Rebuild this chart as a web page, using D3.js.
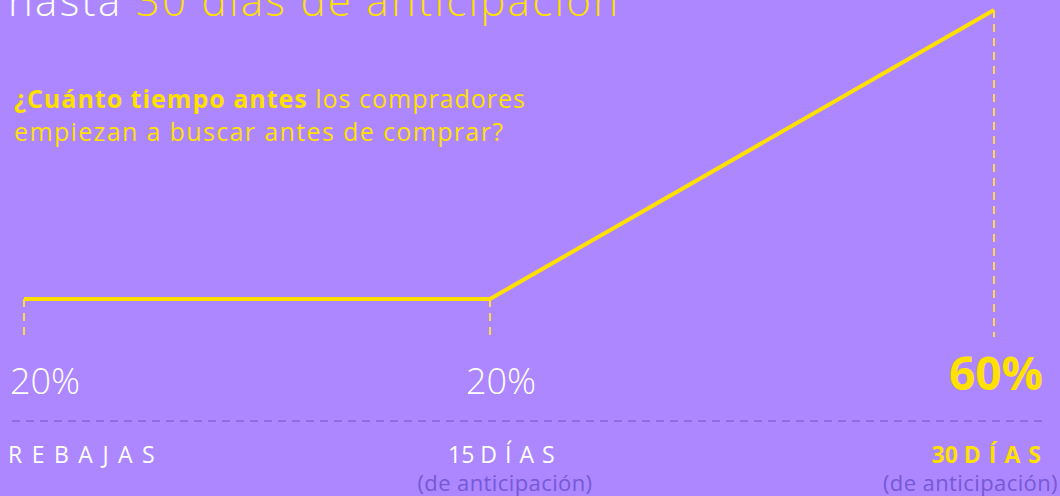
<!DOCTYPE html>
<html>
<head>
<meta charset="utf-8">
<script src="https://cdn.jsdelivr.net/npm/d3@7"></script>
<style>
  body { margin: 0; background: #ac87ff; }
  text { font-family: "Open Sans", Lato, sans-serif; }
</style>
</head>
<body>
<div id="chart"></div>
<script>
// data
const categories = ["REBAJAS", "15 DÍAS", "30 DÍAS"];
const daysBefore = [0, 15, 30];
const shares = [20, 20, 60];
const valueLabels = ["20%", "20%", "60%"];

const width = 1060, height = 496;
const yellow = "#ffe000", white = "#ffffff", darkPurple = "#7659d8";

const svg = d3.select("#chart")
    .append("svg")
    .attr("width", width)
    .attr("height", height);

svg.append("rect").attr("width", width).attr("height", height).attr("fill", "#ac87ff");

// scales
const x = d3.scaleLinear().domain(daysBefore).range([24, 490, 994]);
const y = d3.scaleLinear().domain([20, 60]).range([299, 10]);
const baseY = 337;

// title (cut at top)
const title = svg.append("text")
    .attr("x", 8).attr("y", 16)
    .attr("textLength", 610).attr("lengthAdjust", "spacing")
    .style("font-size", "42px").style("font-weight", 300);
title.append("tspan").attr("fill", white).text("hasta ");
title.append("tspan").attr("fill", yellow).text("30 días de anticipación");

// question
const q1 = svg.append("text").attr("x", 14).attr("y", 108)
    .attr("textLength", 511).attr("lengthAdjust", "spacing")
    .style("font-size", "25px").attr("fill", yellow);
q1.append("tspan").style("font-weight", 700).text("¿Cuánto tiempo antes");
q1.append("tspan").style("font-weight", 400).text(" los compradores");
svg.append("text").attr("x", 14).attr("y", 141)
    .attr("textLength", 489).attr("lengthAdjust", "spacing")
    .style("font-size", "25px").style("font-weight", 400).attr("fill", yellow)
    .text("empiezan a buscar antes de comprar?");

// drop lines
svg.append("g").selectAll("line")
    .data(daysBefore)
    .join("line")
    .attr("x1", (d) => x(d)).attr("x2", (d) => x(d))
    .attr("y1", (d, i) => y(shares[i])).attr("y2", baseY)
    .attr("stroke", "#ffd84a").attr("stroke-width", 2)
    .attr("stroke-dasharray", "8,6");

// main line
const line = d3.line()
    .x((d, i) => x(daysBefore[i]))
    .y((d) => y(d));
svg.append("path")
    .datum(shares)
    .attr("d", line)
    .attr("fill", "none")
    .attr("stroke", yellow)
    .attr("stroke-width", 4)
    .attr("stroke-linejoin", "round");

// value labels
svg.append("text").attr("x", 10).attr("y", 394)
    .attr("fill", white).style("font-size", "36px").style("font-weight", 300)
    .text(valueLabels[0]);
svg.append("text").attr("x", 466).attr("y", 394)
    .attr("fill", white).style("font-size", "36px").style("font-weight", 300)
    .text(valueLabels[1]);
svg.append("text").attr("x", 1043).attr("y", 390)
    .attr("text-anchor", "end")
    .attr("fill", yellow).style("font-size", "46px").style("font-weight", 700)
    .text(valueLabels[2]);

// separator
svg.append("line")
    .attr("x1", 12).attr("x2", 1046).attr("y1", 421).attr("y2", 421)
    .attr("stroke", "#8d6de2").attr("stroke-width", 2)
    .attr("stroke-dasharray", "8,6");

// category labels
svg.append("text").attr("x", 8).attr("y", 463)
    .attr("fill", white).style("font-size", "23px").style("letter-spacing", "9.5px")
    .text(categories[0]);

const c2 = svg.append("text").attr("x", 448).attr("y", 463)
    .attr("fill", white).style("font-size", "23px");
c2.append("tspan").text("15 ");
c2.append("tspan").style("letter-spacing", "8px").text("DÍA");
c2.append("tspan").text("S");
svg.append("text").attr("x", 505).attr("y", 491)
    .attr("text-anchor", "middle")
    .attr("fill", darkPurple).style("font-size", "22px").style("letter-spacing", "0.4px")
    .text("(de anticipación)");

const c3 = svg.append("text").attr("x", 1041).attr("y", 463)
    .attr("text-anchor", "end")
    .attr("fill", yellow).style("font-size", "23px").style("font-weight", 700);
c3.append("tspan").text("30 ");
c3.append("tspan").style("letter-spacing", "8px").text("DÍA");
c3.append("tspan").text("S");
svg.append("text").attr("x", 1058).attr("y", 491)
    .attr("text-anchor", "end")
    .attr("fill", darkPurple).style("font-size", "22px").style("letter-spacing", "0.4px")
    .text("(de anticipación)");
</script>
</body>
</html>
